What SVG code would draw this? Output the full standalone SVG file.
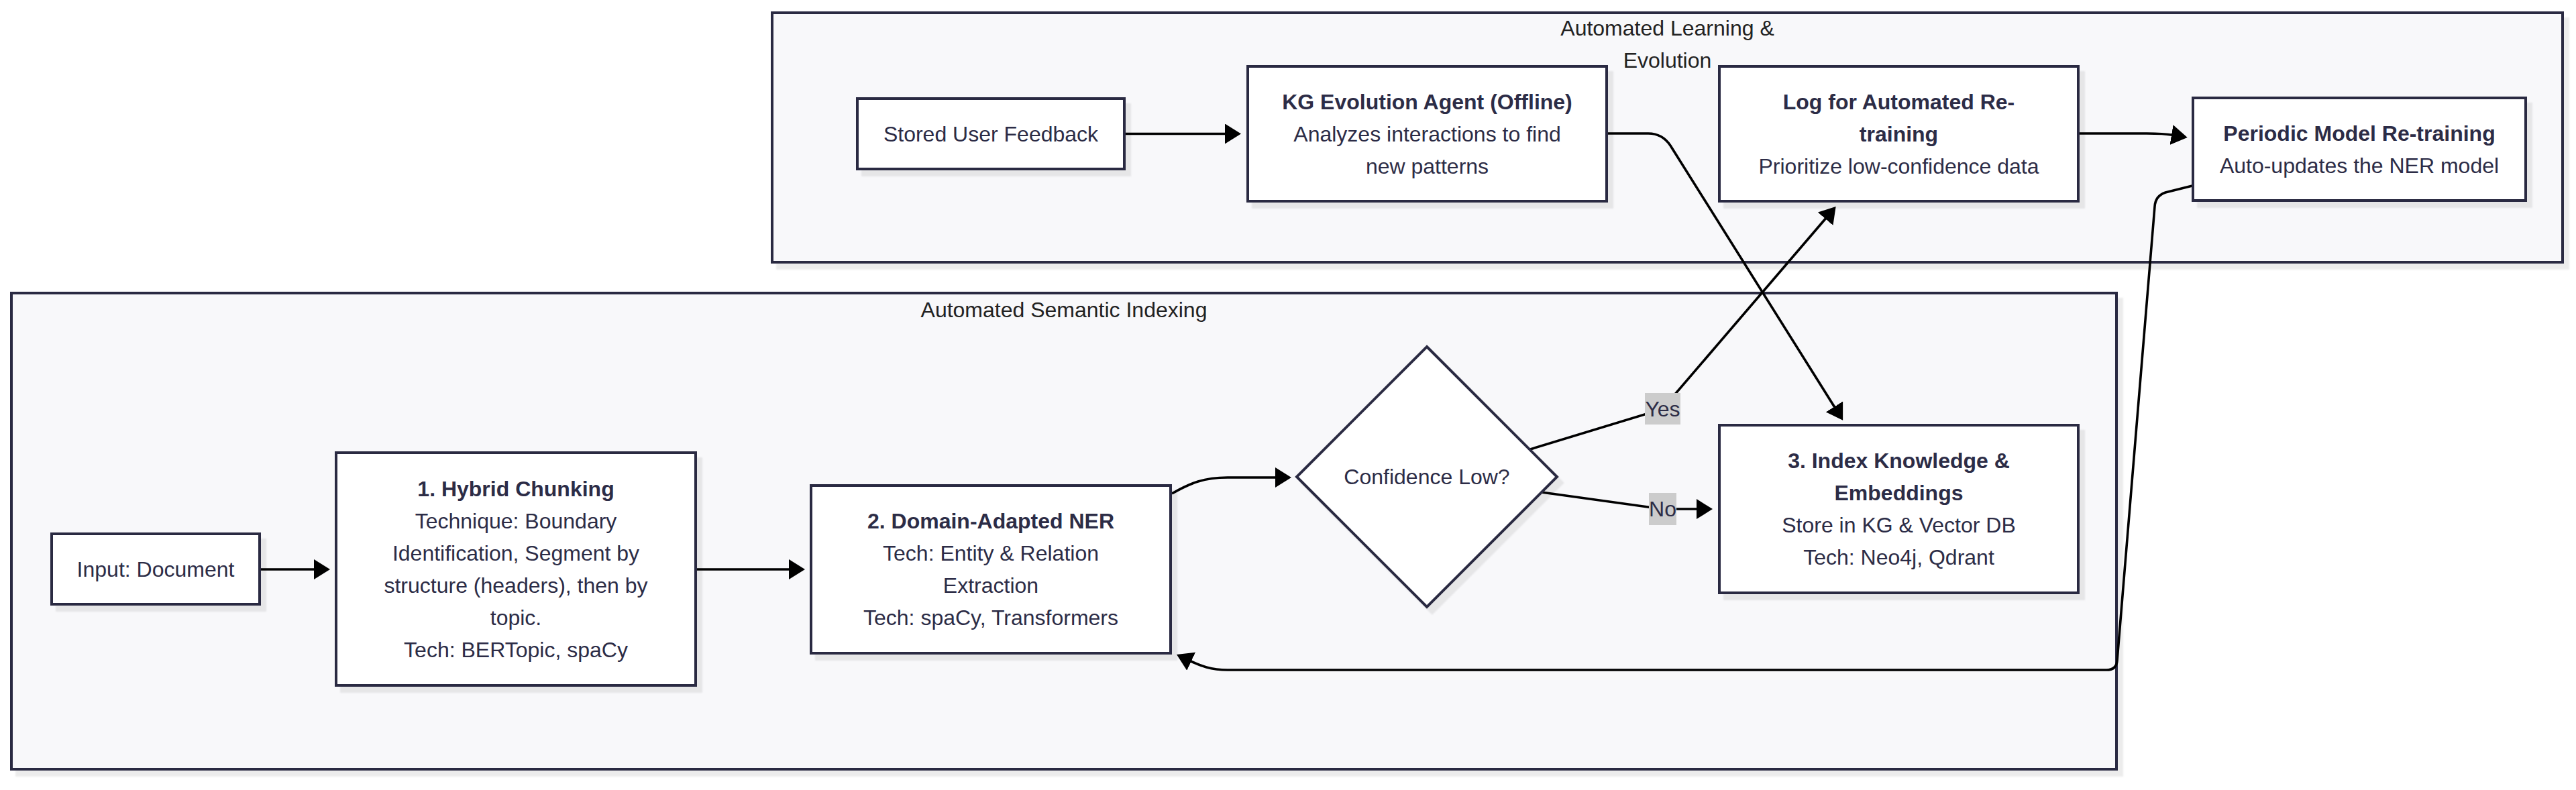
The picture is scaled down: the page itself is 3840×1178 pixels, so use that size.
<svg xmlns="http://www.w3.org/2000/svg" width="3840" height="1178" viewBox="0 0 3840 1178">
<defs>
<style>
.cluster rect{fill:#f8f8fa;stroke:#2b2b42;stroke-width:4;filter:url(#sh)}
.node rect,.node polygon{fill:#ffffff;stroke:#2b2b42;stroke-width:4;filter:url(#sh)}
text{font-family:"Liberation Sans",Arial,Helvetica,sans-serif;font-size:32px;fill:#2c2c46;text-anchor:middle}
.b{font-weight:bold}
.ctitle{fill:#222222}
.edge{fill:none;stroke:#000000;stroke-width:3.6;marker-end:url(#arrow)}
.lbl rect{fill:#cccccc}
</style>
<marker id="arrow" markerUnits="userSpaceOnUse" viewBox="0 0 24 30" markerWidth="24" markerHeight="30" refX="3" refY="15" orient="auto">
<path d="M0,0 L24,15 L0,30 z" fill="#000000"/>
</marker>
<filter id="sh" x="-10%" y="-10%" width="130%" height="130%">
<feDropShadow dx="8" dy="9" stdDeviation="0.8" flood-color="#000000" flood-opacity="0.075"/>
</filter>
</defs>

<g id="cluster-learning" class="cluster">
<rect x="1151" y="19" width="2669" height="372"/>
<text class="ctitle" x="2485.5" y="53">Automated Learning &amp;</text>
<text class="ctitle" x="2485.5" y="101">Evolution</text>
</g>
<g id="cluster-indexing" class="cluster">
<rect x="17" y="437" width="3138" height="710"/>
<text class="ctitle" x="1586" y="473">Automated Semantic Indexing</text>
</g>

<g id="connectors">
<path class="edge" d="M387,849 L471,849"/>
<path class="edge" d="M1037,849 L1179,849"/>
<path class="edge" d="M1747,736 C1775,720 1795,712 1830,712 L1904,712"/>
<path class="edge" d="M2281,670 L2478,610 L2723,324"/>
<path class="edge" d="M2298,734 L2478,759 L2532,759"/>
<path class="edge" d="M1676,199.5 L1829,199.5"/>
<path class="edge" d="M2397,199 L2457,199 Q2478,199 2490,217 L2736,609"/>
<path class="edge" d="M3100,199 L3200,199 Q3225,199 3240,201.5"/>
<path class="edge" d="M3268,277 L3228,287 Q3213,292 3212,308 L3156,985 Q3155,999 3140,999 L1830,999 C1805,999 1790,993 1773,985"/>
</g>

<g id="edge-labels">
<g id="label-yes" class="lbl">
<rect x="2452" y="586" width="53" height="47"/>
<text x="2478.5" y="621">Yes</text>
</g>
<g id="label-no" class="lbl">
<rect x="2458" y="735" width="41" height="48"/>
<text x="2478.5" y="770">No</text>
</g>
</g>

<g id="node-input" class="node">
<rect x="77" y="796" width="310" height="105"/>
<text x="232" y="860">Input: Document</text>
</g>
<g id="node-chunking" class="node">
<rect x="501" y="675" width="536" height="347"/>
<text class="b" x="769" y="740">1. Hybrid Chunking</text>
<text x="769" y="788">Technique: Boundary</text>
<text x="769" y="836">Identification, Segment by</text>
<text x="769" y="884">structure (headers), then by</text>
<text x="769" y="932">topic.</text>
<text x="769" y="980">Tech: BERTopic, spaCy</text>
</g>
<g id="node-ner" class="node">
<rect x="1209" y="724" width="536" height="250"/>
<text class="b" x="1477" y="788">2. Domain-Adapted NER</text>
<text x="1477" y="836">Tech: Entity &amp; Relation</text>
<text x="1477" y="884">Extraction</text>
<text x="1477" y="932">Tech: spaCy, Transformers</text>
</g>
<g id="node-confidence" class="node">
<polygon points="2127,517 2321,711 2127,905 1933,711"/>
<text x="2127" y="722">Confidence Low?</text>
</g>
<g id="node-index" class="node">
<rect x="2563" y="634" width="535" height="250"/>
<text class="b" x="2830.5" y="698">3. Index Knowledge &amp;</text>
<text class="b" x="2830.5" y="746">Embeddings</text>
<text x="2830.5" y="794">Store in KG &amp; Vector DB</text>
<text x="2830.5" y="842">Tech: Neo4j, Qdrant</text>
</g>
<g id="node-feedback" class="node">
<rect x="1278" y="147" width="398" height="105"/>
<text x="1477" y="210.5">Stored User Feedback</text>
</g>
<g id="node-kg-agent" class="node">
<rect x="1860" y="99" width="535" height="201"/>
<text class="b" x="2127.5" y="162.5">KG Evolution Agent (Offline)</text>
<text x="2127.5" y="210.5">Analyzes interactions to find</text>
<text x="2127.5" y="258.5">new patterns</text>
</g>
<g id="node-log" class="node">
<rect x="2563" y="99" width="535" height="201"/>
<text class="b" x="2830.5" y="162.5">Log for Automated Re-</text>
<text class="b" x="2830.5" y="210.5">training</text>
<text x="2830.5" y="258.5">Prioritize low-confidence data</text>
</g>
<g id="node-retrain" class="node">
<rect x="3269" y="146" width="496" height="153"/>
<text class="b" x="3517" y="209.5">Periodic Model Re-training</text>
<text x="3517" y="257.5">Auto-updates the NER model</text>
</g>
</svg>
